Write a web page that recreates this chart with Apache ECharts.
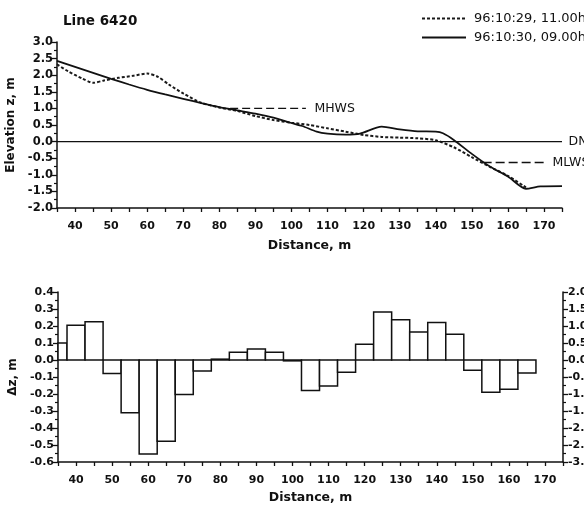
<!DOCTYPE html>
<html>
<head>
<meta charset="utf-8">
<script src="https://cdn.jsdelivr.net/npm/echarts@6/dist/echarts.min.js"></script>
<style>
html,body{margin:0;padding:0;background:#fff;}
#c{width:584px;height:507px;}
</style>
</head>
<body>
<div id="c"></div>
<script>
// ---- data ----
const titleText = 'Line 6420';
const seriesNames = ['96:10:29, 11.00h', '96:10:30, 09.00h'];

const dashedDist = [35,38,42,45,48,52,56,60,63,66,70,75,80,85,90,95,100,105,110,115,120,125,130,135,140,145,150,155,160,165];
const dashedZ    = [2.33,2.12,1.90,1.77,1.84,1.92,1.98,2.05,1.95,1.72,1.45,1.17,1.03,0.92,0.77,0.65,0.57,0.50,0.40,0.30,0.20,0.14,0.12,0.10,0.04,-0.17,-0.47,-0.76,-1.03,-1.38];

const solidDist = [35,40,45,50,55,60,65,70,75,80,85,90,95,100,103,107,110,115,119,125,130,135,140,142,145,150,155,160,165,169,175];
const solidZ    = [2.43,2.25,2.07,1.89,1.72,1.56,1.42,1.29,1.16,1.04,0.94,0.84,0.72,0.56,0.47,0.30,0.24,0.21,0.24,0.45,0.37,0.31,0.30,0.25,0.05,-0.37,-0.75,-1.05,-1.42,-1.35,-1.34];

const mhwsDist = [83,104];   const mhwsZ = [1.0,1.0];
const dnDist   = [35,175];   const dnZ   = [0,0];
const mlwsDist = [153,170];  const mlwsZ = [-0.63,-0.63];

const binCenters = [35,40,45,50,55,60,65,70,75,80,85,90,95,100,105,110,115,120,125,130,135,140,145,150,155,160,165];
const dzValues   = [0.10,0.205,0.225,-0.08,-0.31,-0.553,-0.478,-0.203,-0.065,0.005,0.045,0.065,0.045,-0.005,-0.18,-0.153,-0.072,0.092,0.283,0.237,0.165,0.22,0.152,-0.06,-0.19,-0.172,-0.077];
const binWidth = 5;

// ---- chart ----
const FONT = 'DejaVu Sans';
const INK = '#111';
const CLEAR = 'rgba(0,0,0,0)';
const zip = (a,b) => a.map((v,i)=>[v,b[i]]);

function xAxisCfg(gi){
  return {
    gridIndex: gi, type:'value', min:35, max:175, interval:5,
    name:'Distance, m', nameLocation:'middle', nameGap: gi===0 ? 31 : 29,
    nameTextStyle:{fontFamily:FONT, fontWeight:'bold', fontSize:12.5, color:INK},
    axisLine:{show:true, onZero:false, lineStyle:{color:INK, width:1.5}},
    axisTick:{show:true, length:4, lineStyle:{color:INK, width:1.3}},
    axisLabel:{fontFamily:FONT, fontWeight:'bold', fontSize:11, color:INK, margin:13,
      formatter: v => (v % 10 === 0 ? String(v) : '')},
    splitLine:{show:false}
  };
}
function yAxisCfg(gi, opts, labelSize){
  return Object.assign({
    gridIndex: gi, type:'value',
    nameLocation:'middle', nameRotate:90,
    nameTextStyle:{fontFamily:FONT, fontWeight:'bold', fontSize:12, color:INK},
    axisLine:{show:true, onZero:false, lineStyle:{color:INK, width:1.5}},
    axisTick:{show:true, length:5, lineStyle:{color:INK, width:1.3}},
    minorTick:{show:true, splitNumber:2, length:3, lineStyle:{color:INK, width:1.2}},
    axisLabel:{fontFamily:FONT, fontWeight:'bold', fontSize:labelSize, color:INK, margin:4,
      formatter: v => v.toFixed(1)},
    splitLine:{show:false}
  }, opts);
}

function refLine(name, xs, ys, dash, labelText, dist){
  const data = zip(xs, ys);
  return {
    type:'line', name:name, xAxisIndex:0, yAxisIndex:0, data:data,
    symbol:'circle', symbolSize:1, showSymbol:true, silent:true,
    itemStyle:{color:CLEAR},
    lineStyle:{color:INK, width: dash ? 1.4 : 1.1, type: dash || 'solid'},
    label:{show:true, position:'right', distance:dist,
      fontFamily:FONT, fontSize:12.5, color:INK,
      formatter: p => (p.dataIndex === data.length-1 ? labelText : '')}
  };
}

const chart = echarts.init(document.getElementById('c'), null, {renderer:'canvas'});
chart.setOption({
  animation:false,
  backgroundColor:'#fff',
  title:{text:titleText, left:58, top:9,
    textStyle:{fontFamily:FONT, fontWeight:'bold', fontSize:13.5, color:INK}},
  legend:{
    data:seriesNames, orient:'vertical', left:416, top:7,
    itemWidth:44, itemHeight:14, itemGap:6,
    itemStyle:{opacity:0},
    textStyle:{fontFamily:FONT, fontSize:13, color:INK, padding:[0,0,0,3]}
  },
  grid:[
    {left:57, right:22, top:42, height:166, outerBoundsMode:'none', containLabel:false},
    {left:58, right:21, top:292, height:170, outerBoundsMode:'none', containLabel:false}
  ],
  xAxis:[xAxisCfg(0), xAxisCfg(1)],
  yAxis:[
    yAxisCfg(0,{min:-2, max:3, interval:0.5, name:'Elevation z, m', nameGap:35}, 11.5),
    yAxisCfg(1,{min:-0.6, max:0.4, interval:0.1, name:'\u0394z, m', nameGap:35}, 11),
    yAxisCfg(1,{min:-3, max:2, interval:0.5, position:'right', name:'',
      axisLabel:{fontFamily:FONT, fontWeight:'bold', fontSize:11, color:INK, margin:5,
        formatter: v => v.toFixed(1)}}, 11)
  ],
  series:[
    {type:'line', name:seriesNames[0], xAxisIndex:0, yAxisIndex:0,
      data:zip(dashedDist, dashedZ), symbol:'none', smooth:0.25,
      lineStyle:{color:'#1a1a1a', width:2, type:[3,2]}, itemStyle:{color:CLEAR}},
    {type:'line', name:seriesNames[1], xAxisIndex:0, yAxisIndex:0,
      data:zip(solidDist, solidZ), symbol:'none', smooth:0.25,
      lineStyle:{color:INK, width:1.8}, itemStyle:{color:CLEAR}},
    refLine('MHWS', mhwsDist, mhwsZ, [8,4], 'MHWS', 8),
    refLine('DN', dnDist, dnZ, null, 'DN', 6),
    refLine('MLWS', mlwsDist, mlwsZ, [9,4], 'MLWS', 8),
    {type:'custom', name:'dz', xAxisIndex:1, yAxisIndex:1,
      data:zip(binCenters, dzValues), encode:{x:0, y:1},
      renderItem:(params, api) => {
        const c = api.value(0), v = api.value(1);
        const p0 = api.coord([c - binWidth/2, v]);
        const p1 = api.coord([c + binWidth/2, 0]);
        const rect = {x:p0[0], y:Math.min(p0[1],p1[1]), width:p1[0]-p0[0], height:Math.abs(p1[1]-p0[1])};
        const cs = params.coordSys;
        const shape = echarts.graphic.clipRectByRect(rect, {x:cs.x, y:cs.y, width:cs.width, height:cs.height});
        if (!shape) return null;
        return {type:'rect', shape:shape, style:{fill:'#fff', stroke:INK, lineWidth:1.5}};
      }}
  ]
});
</script>
</body>
</html>
